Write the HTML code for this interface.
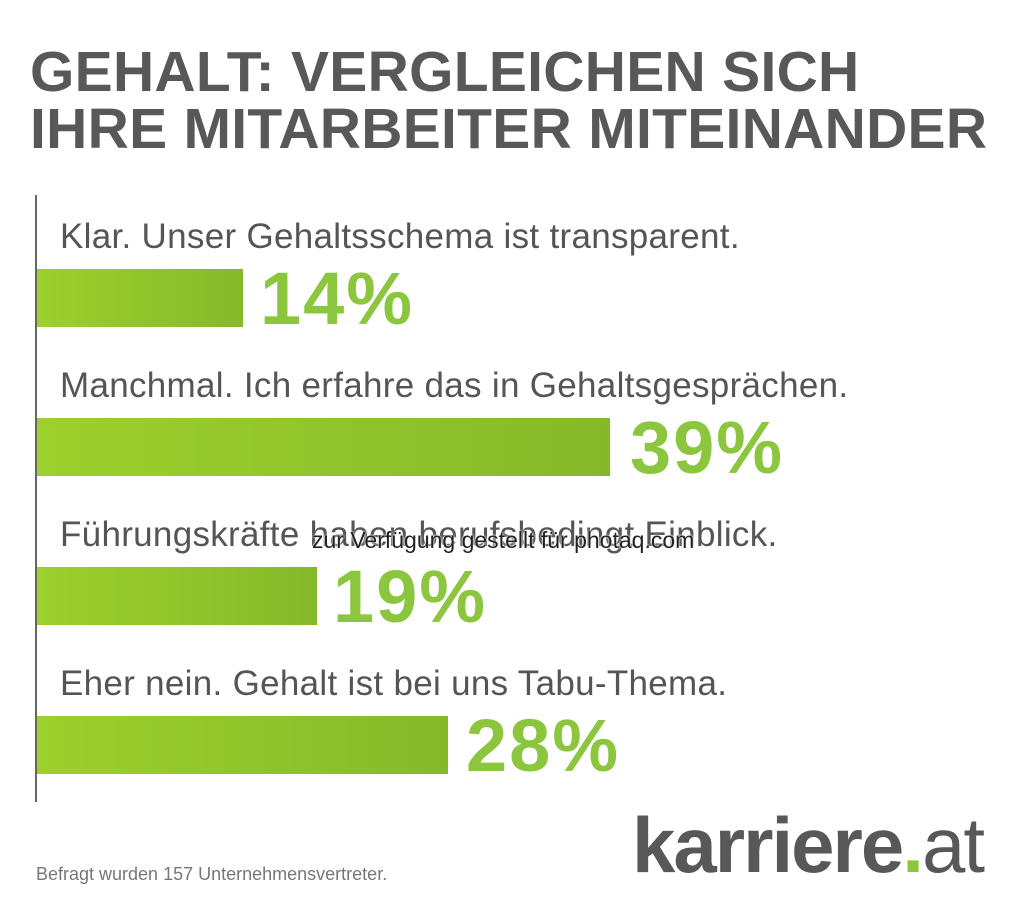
<!DOCTYPE html>
<html><head><meta charset="utf-8"><style>
body{margin:0;width:1024px;height:921px;background:#fff;position:relative;overflow:hidden;font-family:"Liberation Sans",sans-serif}
.t{position:absolute;left:30px;font-weight:bold;color:#58585a;font-size:57px;letter-spacing:0.3px;line-height:1}
.ax{position:absolute;left:35px;top:195px;width:2px;height:607px;background:#666}
.lab{position:absolute;left:60px;font-size:35px;color:#555;font-weight:300;line-height:1;letter-spacing:0.3px}
.bar{position:absolute;left:37px;height:58px;background:linear-gradient(90deg,#9dd02c,#86b92a)}
.pct{position:absolute;font-size:74px;color:#8cc63f;font-weight:bold;line-height:1;letter-spacing:2px}
</style></head><body>
<div class="t" style="top:44px">GEHALT: VERGLEICHEN SICH</div>
<div class="t" style="top:101px">IHRE MITARBEITER MITEINANDER</div>
<div class="ax"></div>
<div class="lab" style="top:219px">Klar. Unser Gehaltsschema ist transparent.</div>
<div class="bar" style="top:269px;width:206px"></div>
<div class="pct" style="left:260px;top:262px">14%</div>
<div class="lab" style="top:368px">Manchmal. Ich erfahre das in Gehaltsgesprächen.</div>
<div class="bar" style="top:418px;width:573px"></div>
<div class="pct" style="left:630px;top:411px">39%</div>
<div class="lab" style="top:517px">Führungskräfte haben berufsbedingt Einblick.</div>
<div class="bar" style="top:567px;width:280px"></div>
<div class="pct" style="left:333px;top:560px">19%</div>
<div class="lab" style="top:666px">Eher nein. Gehalt ist bei uns Tabu-Thema.</div>
<div class="bar" style="top:716px;width:411px"></div>
<div class="pct" style="left:466px;top:709px">28%</div>
<div style="position:absolute;left:312px;top:527px;font-size:23px;color:#222;text-shadow:0 0 2px #fff,0 0 2px #fff">zur Verfügung gestellt für photaq.com</div>
<div style="position:absolute;left:36px;top:864px;font-size:18px;color:#777">Befragt wurden 157 Unternehmensvertreter.</div>
<div style="position:absolute;left:632px;top:806px;font-size:78px;color:#58585a;font-weight:bold;line-height:1;letter-spacing:-2px">karriere<span style="color:#8cc63f">.</span><span style="font-weight:normal">at</span></div>
</body></html>
